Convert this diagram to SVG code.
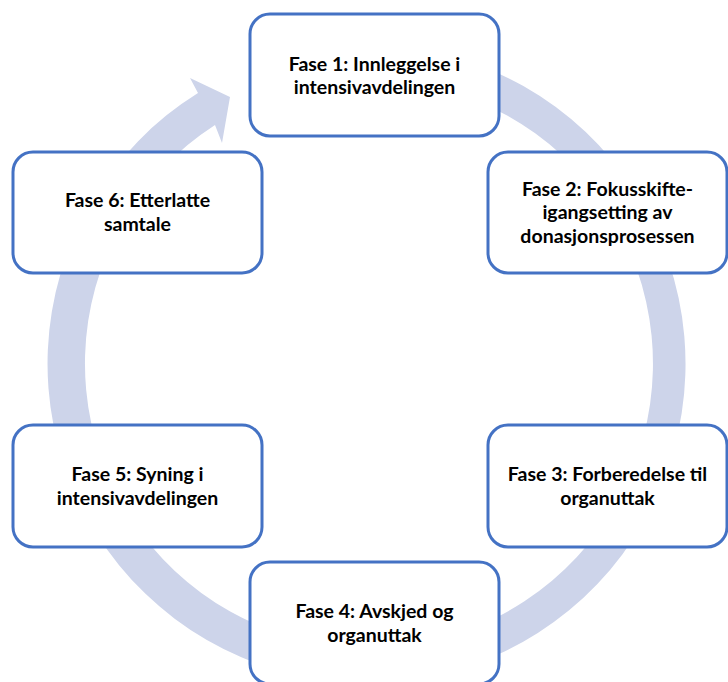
<svg xmlns="http://www.w3.org/2000/svg" width="728" height="682" viewBox="0 0 728 682">
<style>
.box{fill:#ffffff;stroke:#4472c4;stroke-width:3}
.lbl{font-family:Lato,"Open Sans","Liberation Sans",sans-serif;font-weight:bold;font-size:19.5px;fill:#000000;text-anchor:middle}
.band{fill:#cdd4ea;stroke:none}
</style>
<rect width="728" height="682" fill="#ffffff"/>
<g id="connectors">
<path class="band" d="M 337.2 46.2 A 319 319 0 1 1 198 93 L 190 78 L 230 97 L 222 143 L 215 125 A 284 284 0 1 0 340.25 81.1 Z"/>
</g>
<g id="fase1">
<rect class="box" x="250" y="14" width="249" height="122" rx="20"/>
<text class="lbl" x="374.5" y="70.5">Fase 1: Innleggelse i</text>
<text class="lbl" x="374.5" y="94">intensivavdelingen</text>
</g>
<g id="fase2">
<rect class="box" x="488" y="152" width="239" height="121" rx="20"/>
<text class="lbl" x="607.5" y="195.5">Fase 2: Fokusskifte-</text>
<text class="lbl" x="607.5" y="219">igangsetting av</text>
<text class="lbl" x="607.5" y="242.5">donasjonsprosessen</text>
</g>
<g id="fase3">
<rect class="box" x="488" y="425" width="239" height="122" rx="20"/>
<text class="lbl" x="607.5" y="481">Fase 3: Forberedelse til</text>
<text class="lbl" x="607.5" y="504.5">organuttak</text>
</g>
<g id="fase4">
<rect class="box" x="250" y="562" width="249" height="122" rx="20"/>
<text class="lbl" x="374.5" y="618">Fase 4: Avskjed og</text>
<text class="lbl" x="374.5" y="641.5">organuttak</text>
</g>
<g id="fase5">
<rect class="box" x="13" y="425" width="249" height="122" rx="20"/>
<text class="lbl" x="137.5" y="481">Fase 5: Syning i</text>
<text class="lbl" x="137.5" y="504.5">intensivavdelingen</text>
</g>
<g id="fase6">
<rect class="box" x="13" y="152" width="249" height="121" rx="20"/>
<text class="lbl" x="137.5" y="207">Fase 6: Etterlatte</text>
<text class="lbl" x="137.5" y="230.5">samtale</text>
</g>
</svg>
